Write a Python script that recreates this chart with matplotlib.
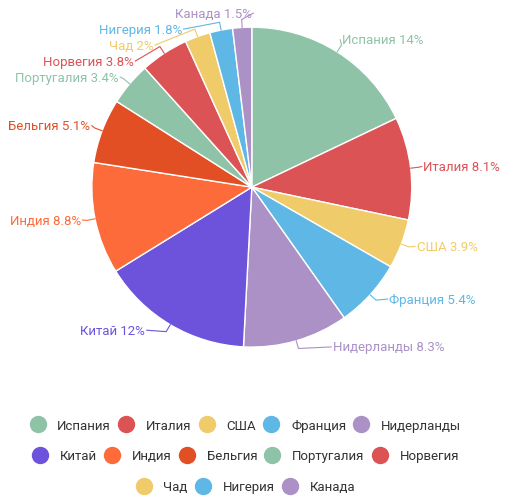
import numpy as np
import matplotlib.pyplot as plt
from matplotlib.lines import Line2D

plt.rcParams['font.family'] = ['Roboto', 'DejaVu Sans']

countries = ['Испания', 'Италия', 'США', 'Франция', 'Нидерланды',
             'Китай', 'Индия', 'Бельгия', 'Португалия', 'Норвегия',
             'Чад', 'Нигерия', 'Канада']
values = [14, 8.1, 3.9, 5.4, 8.3, 12, 8.8, 5.1, 3.4, 3.8, 2, 1.8, 1.5]
value_labels = ['14%', '8.1%', '3.9%', '5.4%', '8.3%', '12%', '8.8%', '5.1%',
                '3.4%', '3.8%', '2%', '1.8%', '1.5%']
colors = ['#8fc3a8', '#dc5356', '#f0cb69', '#5fb7e5', '#ab91c5',
          '#6d53dc', '#fd6b3b', '#e34f25', '#8fc3a8', '#dc5356',
          '#f0cb69', '#5fb7e5', '#ab91c5']

fig = plt.figure(figsize=(5.16, 5.02), dpi=100)
ax = fig.add_axes([0.178, 0.3065, 0.62, 0.6375])
wedges, _ = ax.pie(values, colors=colors, startangle=90, counterclock=False,
                   radius=1.0, wedgeprops=dict(edgecolor='white', linewidth=1))
ax.set_xlim(-1, 1)
ax.set_ylim(-1, 1)
ax.set_aspect('equal')
ax.axis('off')

# label placement: natural position, then push apart vertically per side
gap = 0.1
info = []
for i, w in enumerate(wedges):
    mid = np.deg2rad((w.theta1 + w.theta2) / 2.0)
    s = np.sin(mid)
    y = (1.09 if s > 0 else 1.04) * s
    info.append(dict(i=i, mid=mid, y=y, side=np.sign(np.cos(mid)) or 1))

for side in (-1, 1):
    items = sorted([d for d in info if d['side'] == side], key=lambda d: -d['y'])
    prev = None
    for d in items:
        if prev is not None and d['y'] > prev - gap:
            d['y'] = prev - gap
        prev = d['y']

for d in info:
    i, mid, y, side = d['i'], d['mid'], d['y'], d['side']
    R = 1.08 + 0.04 * max(-y, 0.0)
    x = side * np.sqrt(max(R ** 2 - y ** 2, 0.0))
    x0, y0 = np.cos(mid), np.sin(mid)
    x1, y1 = 1.05 * x0, 1.05 * y0
    ax.plot([x0, x1, x - side * 0.01], [y0, y1, y], color=colors[i], lw=0.8,
            clip_on=False)
    ax.text(x, y, countries[i] + ' ' + value_labels[i], color=colors[i],
            fontsize=9.5, ha='left' if side > 0 else 'right', va='center')

# legend rows
rows = [countries[0:5], countries[5:10], countries[10:13]]
row_y = [0.151, 0.09, 0.028]
k = 0
for names, yy in zip(rows, row_y):
    handles = []
    for n in names:
        handles.append(Line2D([], [], marker='o', linestyle='none', markersize=11.5,
                              markerfacecolor=colors[k], markeredgecolor=colors[k]))
        k += 1
    fig.legend(handles, names, loc='center', bbox_to_anchor=(0.477, yy),
               ncol=len(names), frameon=False, fontsize=9.5, handlelength=1.0,
               handletextpad=1.0, columnspacing=0.65, labelcolor='#333333')

fig.savefig('out.png', dpi=100)
